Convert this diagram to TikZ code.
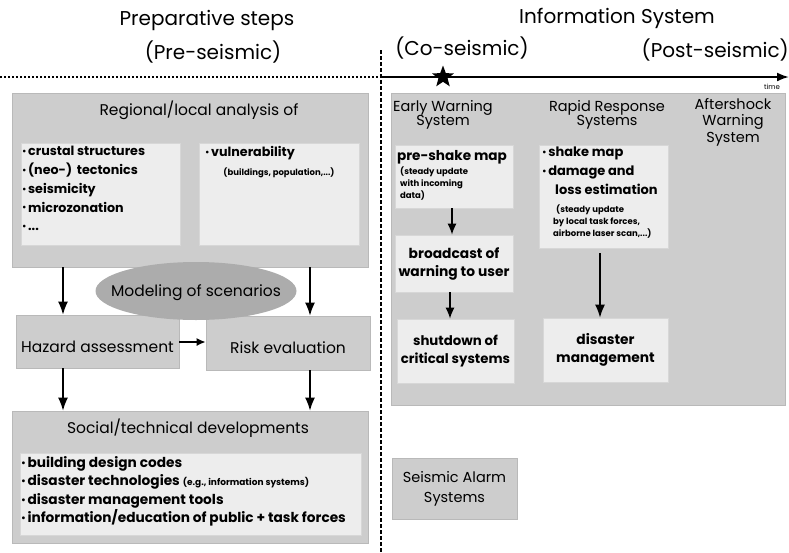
\documentclass[tikz,border=0pt]{standalone}
\usepackage{fontspec}
\setmainfont{Poppins}
\usetikzlibrary{shapes.geometric,arrows.meta}
\definecolor{boxgray}{RGB}{205,205,205}
\definecolor{boxedge}{RGB}{185,185,185}
\definecolor{innergray}{RGB}{237,237,237}
\definecolor{inneredge}{RGB}{215,215,215}
\definecolor{ellgray}{RGB}{172,172,172}
\newcommand{\bul}{\raisebox{0.15ex}{\scalebox{0.7}{•}}\hspace{1.5pt}}
\tikzset{
  outerbox/.style={rectangle, fill=boxgray, draw=boxedge, line width=0.6pt, inner sep=0pt},
  innerbox/.style={rectangle, fill=innergray, draw=inneredge, line width=0.6pt, inner sep=0pt, align=center},
  heading/.style={inner sep=0pt, font=\fontsize{20}{24}\selectfont, align=center},
  boxtitle/.style={inner sep=0pt, font=\fontsize{15.5}{18}\selectfont, align=center},
  listtext/.style={inner sep=0pt, anchor=north west, align=left, font=\bfseries\fontsize{12.7}{18.8}\selectfont},
  smalltext/.style={inner sep=0pt, align=left, font=\bfseries\fontsize{8.5}{12}\selectfont},
  flow/.style={line width=1.6pt, -{Latex[length=13pt,width=10pt]}},
}
\begin{document}
\begin{tikzpicture}[x=1pt,y=-1pt]
\useasboundingbox (0,0) rectangle (789,552);

% ---- headings ----
\node[heading] (prep) at (207,20) {Preparative steps};
\node[heading] (pre) at (213,52) {(Pre-seismic)};
\node[heading] (info) at (617,18) {Information System};
\node[heading] (co) at (462,48) {(Co-seismic)};
\node[heading, anchor=east] (post) at (789,50) {(Post-seismic)};

% ---- separators and time axis ----
\coordinate (sepL) at (0,77);
\coordinate (sepM) at (381,77);
\coordinate (axisEnd) at (789,77);
\coordinate (vtop) at (381,50);
\coordinate (vbot) at (381,552);
\draw[line width=2.4pt, dash pattern=on 2.2pt off 1.8pt] (sepL) -- (sepM);
\draw[line width=1.3pt, dash pattern=on 4pt off 2pt] (vtop) -- (vbot);
\draw[line width=2pt, -{Latex[length=12pt,width=9pt]}] (sepM) -- (axisEnd);
\node[star, star points=5, star point ratio=2.4, fill=black, inner sep=0pt, minimum size=23pt] (quake) at (443,77) {};
\node[inner sep=0pt, font=\fontsize{7}{8}\selectfont] (time) at (772,87) {time};

% ---- left column: preparative steps ----
\node[outerbox, minimum width=356pt, minimum height=174pt] (reg) at (190,180) {};
\node[boxtitle] (regT) at (199,110) {Regional/local analysis of};
\node[innerbox, minimum width=159pt, minimum height=102pt] (regL) at (100.5,194) {};
\node[innerbox, minimum width=160pt, minimum height=102pt] (regR) at (279,194) {};
\node[listtext] (regLT) at (22,146) {\bul crustal structures\\ \bul (neo-) \,tectonics\\ \bul seismicity\\ \bul microzonation\\ \bul ...};
\node[listtext] (regRT) at (205,146) {\bul vulnerability};
\node[smalltext] (regRS) at (279,173) {(buildings, population,...)};

\node[outerbox, minimum width=163pt, minimum height=53pt] (haz) at (97.5,341.5) {};
\node[boxtitle] (hazT) at (97.5,347) {Hazard assessment};
\node[outerbox, minimum width=164pt, minimum height=54pt] (risk) at (288,343) {};
\node[boxtitle] (riskT) at (288,348) {Risk evaluation};
\node[ellipse, fill=ellgray, inner sep=0pt, minimum width=201pt, minimum height=58pt] (model) at (196,291) {};
\node[boxtitle] (modelT) at (196,293) {Modeling of scenarios};

\node[outerbox, minimum width=356pt, minimum height=132pt] (soc) at (190,477) {};
\node[boxtitle] (socT) at (188,428) {Social/technical developments};
\node[innerbox, minimum width=341pt, minimum height=82pt] (socL) at (190.5,494) {};
\node[listtext, font=\bfseries\fontsize{13.7}{18.5}\selectfont] (socLT) at (21,456) {\bul building design codes\\ \bul disaster technologies {\fontsize{9}{10}\selectfont (e.g., information systems)}\\ \bul disaster management tools\\ \bul information/education of public + task forces};

\coordinate (ax) at (63,0);
\coordinate (bx) at (310,0);
\draw[flow] (reg.south -| ax) -- (haz.north -| ax);
\draw[flow] (reg.south -| bx) -- (risk.north -| bx);
\draw[flow] (haz.south -| ax) -- (soc.north -| ax);
\draw[flow] (risk.south -| bx) -- (soc.north -| bx);
\draw[line width=1.6pt, -{Latex[length=9pt,width=8pt]}] (haz.east |- 0,342) -- (risk.west |- 0,342);

% ---- right column: information system ----
\node[outerbox, minimum width=394pt, minimum height=312pt] (sys) at (588,249) {};
\node[boxtitle, font=\fontsize{14.5}{14.5}\selectfont] (ewsT) at (443,115) {Early Warning\\System};
\node[boxtitle, font=\fontsize{14.5}{14.5}\selectfont] (rrsT) at (607,115) {Rapid Response\\Systems};
\node[boxtitle, font=\fontsize{14.5}{16.5}\selectfont] (awsT) at (733,122) {Aftershock\\Warning\\System};

\node[innerbox, minimum width=118pt, minimum height=63pt] (psm) at (454,176.5) {};
\node[inner sep=0pt, font=\bfseries\fontsize{13.6}{16}\selectfont] (psmT) at (452,157) {pre-shake map};
\node[smalltext, anchor=north west, font=\bfseries\fontsize{8.5}{12}\selectfont] (psmS) at (400,167) {(steady update\\ with incoming\\ data)};

\node[innerbox, minimum width=118pt, minimum height=57pt, font=\bfseries\fontsize{13.8}{18}\selectfont] (bc) at (454,263.5) {broadcast of\\warning to user};
\node[innerbox, minimum width=117pt, minimum height=64pt, font=\bfseries\fontsize{13.3}{18}\selectfont] (shut) at (455.5,351) {shutdown of\\critical systems};

\node[innerbox, minimum width=129pt, minimum height=103pt] (shake) at (603.5,196.5) {};
\node[listtext, font=\bfseries\fontsize{13}{18.8}\selectfont] (shakeT) at (542,147) {\bul shake map\\ \bul damage and\\ \hspace{13pt}loss estimation};
\node[smalltext, anchor=north west] (shakeS) at (553,205) {\hspace{3pt}(steady update\\ by local task forces,\\ airborne laser scan,...)};

\node[innerbox, minimum width=125pt, minimum height=64pt, font=\bfseries\fontsize{13.8}{18}\selectfont] (dm) at (605.5,350) {disaster\\management};

\draw[flow, -{Latex[length=11pt,width=9pt]}] (psm.south -| 452,0) -- (bc.north -| 452,0);
\draw[flow, -{Latex[length=11pt,width=9pt]}] (bc.south -| 450,0) -- (shut.north -| 450,0);
\draw[flow] (shake.south -| 600,0) ++(0,5) -- (dm.north -| 600,0);

\node[outerbox, minimum width=125pt, minimum height=61pt, font=\fontsize{14.5}{20}\selectfont, align=center] (sas) at (454.5,488.5) {Seismic Alarm\\Systems};
\end{tikzpicture}
\end{document}
